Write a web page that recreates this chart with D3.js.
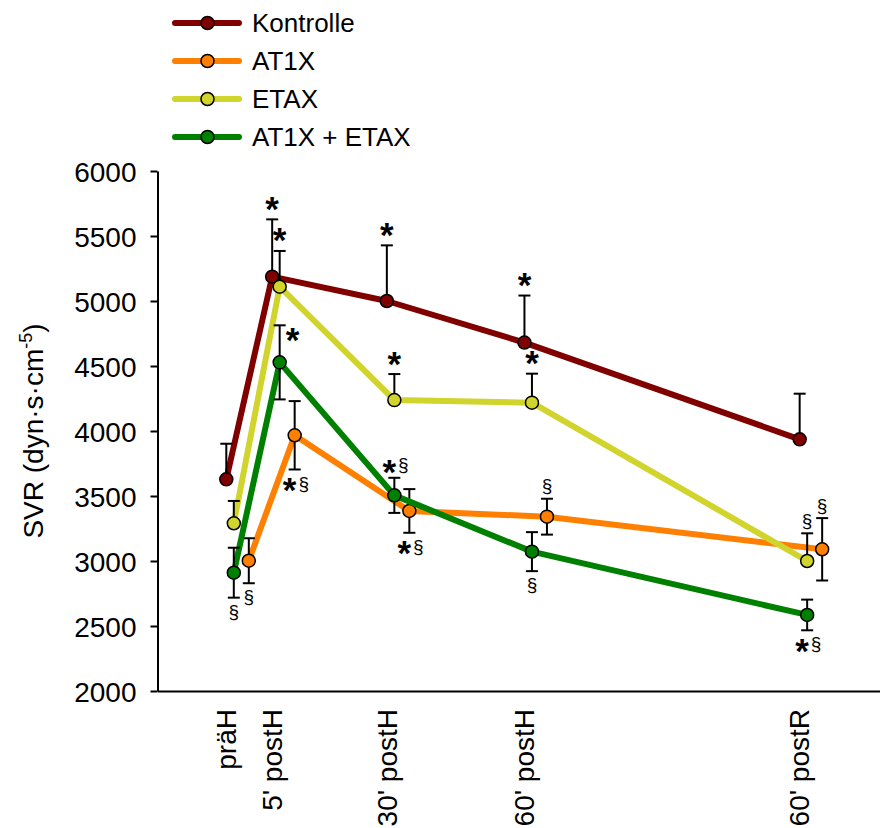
<!DOCTYPE html>
<html>
<head>
<meta charset="utf-8">
<script src="https://cdn.jsdelivr.net/npm/d3@7"></script>
<style>
  body { margin: 0; background: #fff; }
  text { font-family: "Liberation Sans", Arial, sans-serif; fill: #000; }
</style>
</head>
<body>
<script>
// time points (min relative to haemorrhage) and their labels
var timePoints = [-5, 5, 30, 60, 120];
var timeLabels = ["präH", "5' postH", "30' postH", "60' postH", "60' postR"];
var yTicks = [2000, 2500, 3000, 3500, 4000, 4500, 5000, 5500, 6000];

var seriesNames = ["Kontrolle", "AT1X", "ETAX", "AT1X + ETAX"];

// mean and SEM per group
var kontrolle    = [3628, 5187, 5000, 4680, 3936];
var kontrolleErr = [274, 441, 428, 362, 351];
var at1x         = [3002, 3967, 3385, 3341, 3090];
var at1xErr      = [173, 263, 168, 138, 240];
var etax         = [3290, 5110, 4238, 4218, 3000];
var etaxErr      = [172, 275, 200, 223, 213];
var combo        = [2910, 4528, 3505, 3072, 2585];
var comboErr     = [192, 285, 135, 150, 118];

// significance marks (* vs präH, § vs Kontrolle) and where they sit
var kontrolleSig = ["", "*", "*", "*", ""];
var at1xSig      = ["§", "*§", "*§", "§", "§"];
var etaxSig      = ["", "*", "*", "*", "§"];
var comboSig     = ["§", "*", "*§", "§", "*§"];
var kontrolleSigPos = ["above", "above", "above", "above", "above"];
var at1xSigPos      = ["below", "below", "below", "above", "above"];
var etaxSigPos      = ["above", "above", "above", "above", "above"];
var comboSigPos     = ["below", "right", "above", "below", "below"];

var series = [
  {name: seriesNames[0], color: "#800000", v: kontrolle, e: kontrolleErr, both: false, sig: kontrolleSig, sigPos: kontrolleSigPos, dodge: 0},
  {name: seriesNames[1], color: "#ff8000", v: at1x, e: at1xErr, both: true, sig: at1xSig, sigPos: at1xSigPos, dodge: 22.5},
  {name: seriesNames[2], color: "#d0d42c", v: etax, e: etaxErr, both: false, sig: etaxSig, sigPos: etaxSigPos, dodge: 7.5},
  {name: seriesNames[3], color: "#008000", v: combo, e: comboErr, both: true, sig: comboSig, sigPos: comboSigPos, dodge: 7.5}
];

var window_w = 880, window_h = 828;

var xScale = d3.scaleLinear().domain([-20, 140]).range([157.5, 891.4]);
var yScale = d3.scaleLinear().domain([2000, 6000]).range([691, 171]);

var svg = d3.select("body").append("svg")
    .attr("width", window_w)
    .attr("height", window_h);

// axes
var yAxis = d3.axisLeft(yScale)
    .tickValues(yTicks)
    .tickSize(7)
    .tickSizeOuter(0)
    .tickPadding(14)
    .tickFormat(d3.format("d"));

var yAxisG = svg.append("g")
    .attr("transform", "translate(" + xScale(-20) + ",0)")
    .call(yAxis);
yAxisG.selectAll("path, line").attr("stroke", "#000").attr("stroke-width", 2);
yAxisG.selectAll("text").style("font-size", "28px").attr("dy", "0.36em");

var xAxis = d3.axisBottom(xScale)
    .tickValues(timePoints)
    .tickSize(0)
    .tickSizeOuter(0)
    .tickFormat(function(d, i) { return timeLabels[i]; });

var xAxisG = svg.append("g")
    .attr("transform", "translate(0," + yScale(2000) + ")")
    .call(xAxis);
xAxisG.select(".domain").attr("stroke", "#000").attr("stroke-width", 2);
xAxisG.selectAll("text")
    .style("font-size", "28px")
    .style("text-anchor", "end")
    .attr("x", -18)
    .attr("y", 0)
    .attr("dy", "0.33em")
    .attr("transform", "rotate(-90)");

// y title with superscript
var yTitle = svg.append("text")
    .attr("transform", "translate(43," + ((yScale(2000) + yScale(6000)) / 2) + ") rotate(-90)")
    .style("text-anchor", "middle")
    .style("font-size", "28px");
yTitle.append("tspan").text("SVR (dyn·s·cm");
yTitle.append("tspan").text("-5").style("font-size", "18px").attr("dy", -11);
yTitle.append("tspan").text(")").attr("dy", 11);

var line = d3.line()
    .x(function(d) { return d.x; })
    .y(function(d) { return d.y; })
    .curve(d3.curveLinear);

function drawMark(g, txt, x, cy) {
  var hasStar = txt.indexOf("*") >= 0;
  var hasPara = txt.indexOf("§") >= 0;
  var sx = x, px = x;
  if (hasStar && hasPara) { sx = x - 5; px = x + 9; }
  if (hasStar) {
    g.append("text")
      .attr("x", sx)
      .attr("y", cy + 0.5 * 35)
      .style("text-anchor", "middle")
      .style("font-size", "35px")
      .style("font-weight", "bold")
      .text("*");
  }
  if (hasPara) {
    g.append("text")
      .attr("x", px)
      .attr("y", cy + 0.27 * 19)
      .style("text-anchor", "middle")
      .style("font-size", "19px")
      .text("§");
  }
}

series.forEach(function(s) {
  var pts = s.v.map(function(v, i) {
    return {x: xScale(timePoints[i]) + s.dodge, y: yScale(v),
            top: yScale(v + s.e[i]), bot: s.both ? yScale(v - s.e[i]) : yScale(v),
            sig: s.sig[i], pos: s.sigPos[i]};
  });
  var g = svg.append("g").attr("class", "series");

  g.append("path")
    .attr("d", line(pts))
    .attr("fill", "none")
    .attr("stroke", s.color)
    .attr("stroke-width", 6)
    .attr("stroke-linejoin", "round");

  var eb = g.selectAll(".err").data(pts).enter().append("g").attr("class", "err");
  eb.append("line")
    .attr("x1", d => d.x).attr("x2", d => d.x)
    .attr("y1", d => d.top).attr("y2", d => d.bot)
    .attr("stroke", "#000").attr("stroke-width", 2);
  eb.append("line")
    .attr("x1", d => d.x - 6).attr("x2", d => d.x + 6)
    .attr("y1", d => d.top).attr("y2", d => d.top)
    .attr("stroke", "#000").attr("stroke-width", 2);
  if (s.both) {
    eb.append("line")
      .attr("x1", d => d.x - 6).attr("x2", d => d.x + 6)
      .attr("y1", d => d.bot).attr("y2", d => d.bot)
      .attr("stroke", "#000").attr("stroke-width", 2);
  }

  g.selectAll("circle").data(pts).enter().append("circle")
    .attr("cx", d => d.x)
    .attr("cy", d => d.y)
    .attr("r", 6.5)
    .attr("fill", s.color)
    .attr("stroke", "#000")
    .attr("stroke-width", 1.5);

  pts.forEach(function(d) {
    if (!d.sig) return;
    if (d.pos == "above") {
      var off = d.sig == "*" ? 16 : 11.5;
      drawMark(g, d.sig, d.x, d.top - off);
    } else if (d.pos == "below") {
      drawMark(g, d.sig, d.x, d.bot + 15);
    } else {
      drawMark(g, d.sig, d.x + 13, d.top + 9);
    }
  });
});

// legend
var legend = svg.append("g").attr("class", "legend");
series.forEach(function(s, i) {
  var ly = 23 + i * 38;
  legend.append("line")
    .attr("x1", 175).attr("x2", 239)
    .attr("y1", ly).attr("y2", ly)
    .attr("stroke", s.color)
    .attr("stroke-width", 6)
    .attr("stroke-linecap", "round");
  legend.append("circle")
    .attr("cx", 207.5).attr("cy", ly).attr("r", 6.5)
    .attr("fill", s.color)
    .attr("stroke", "#000").attr("stroke-width", 1.5);
  legend.append("text")
    .attr("x", 252).attr("y", ly)
    .attr("dy", "0.36em")
    .style("font-size", "26px")
    .text(s.name);
});
</script>
</body>
</html>
